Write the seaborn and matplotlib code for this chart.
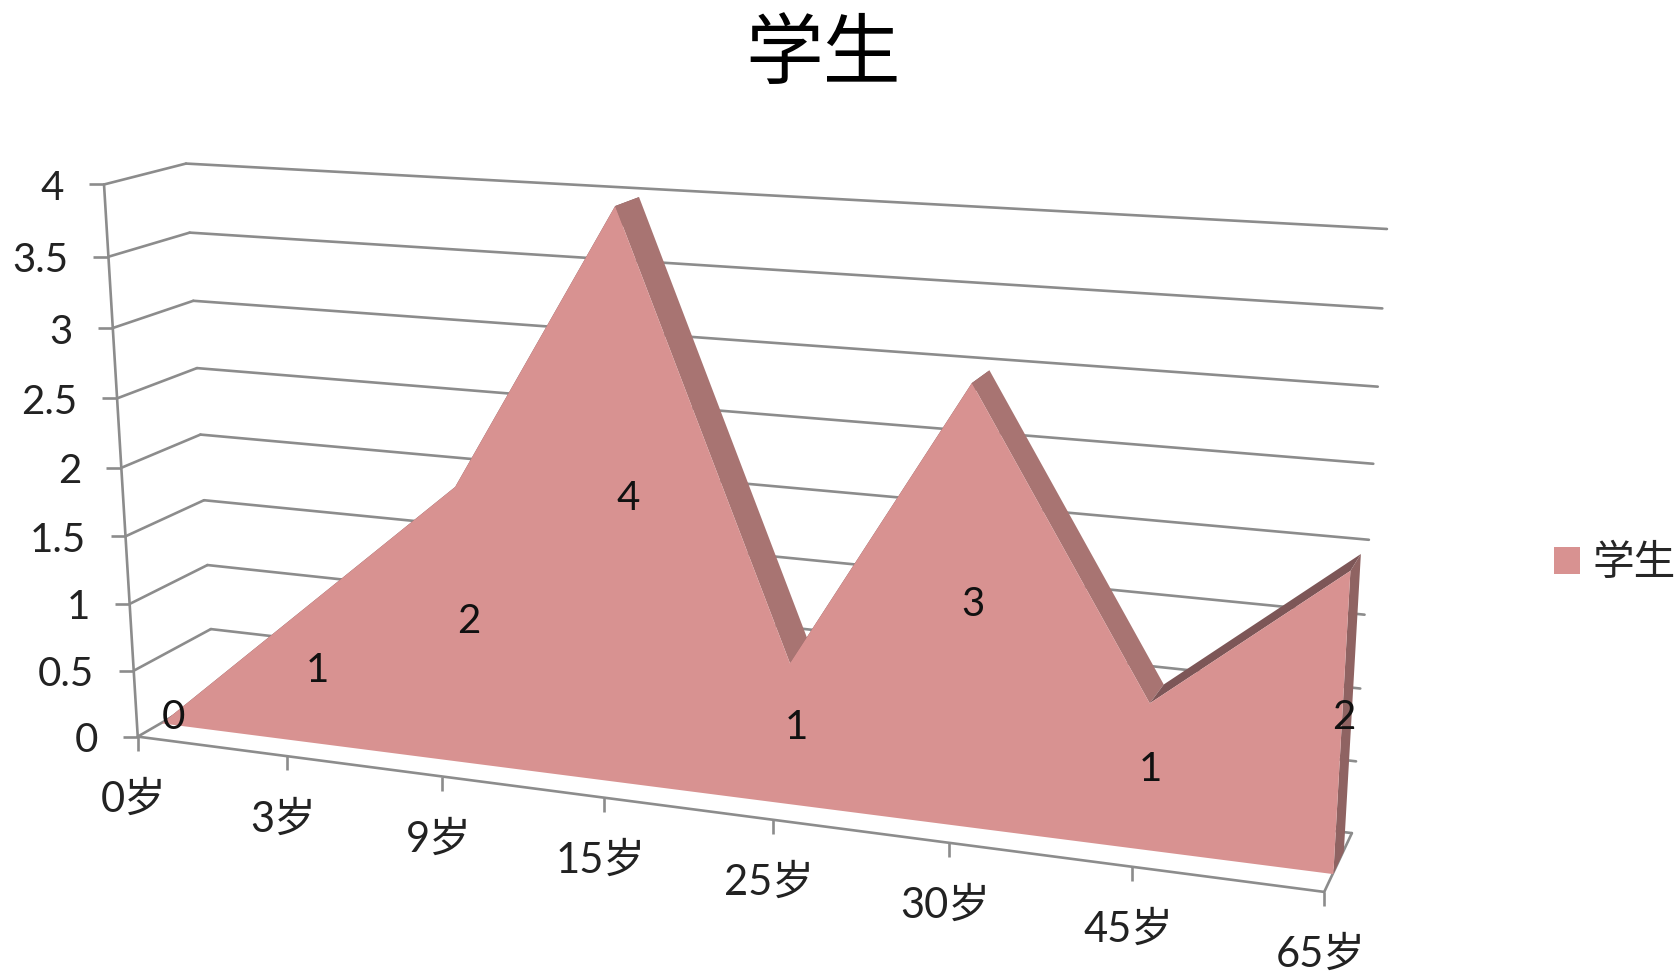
import numpy as np
import seaborn as sns
import matplotlib.pyplot as plt
import matplotlib.markers as mmarkers
import matplotlib.transforms as mtransforms

# chart values
ages = ['0岁', '3岁', '9岁', '15岁', '25岁', '30岁', '45岁', '65岁']
students = [0, 1, 2, 4, 1, 3, 1, 2]
y_ticks = [0, 0.5, 1, 1.5, 2, 2.5, 3, 3.5, 4]
y_tick_labels = ['0', '0.5', '1', '1.5', '2', '2.5', '3', '3.5', '4']

W, H = 1678, 973
GRID = '#8c8c8c'
FRONT = '#d89291'
ROOF_DOWN = '#a87472'
ROOF_UP = '#7d5657'
SIDE = '#8f6362'
Z_FRONT, Z_BACK = 0.30, 0.68
LW = 1.9
n = len(ages)
idx = np.arange(n)

# box corners (x, y, z) -> picture pixels, used to solve the Excel-like 3D camera
box_3d = [(0, 0, 0), (0, 1, 0), (1, 0, 0), (0, 0, 1), (0, 1, 1), (1, 0, 1), (1, 1, 1)]
box_px = [(137, 737), (105, 184), (1324, 892), (215, 692), (185, 164), (1352, 833), (1387, 229)]

rows = []
for (X, Y, Z), (u, v) in zip(box_3d, box_px):
    u, v = u / 1000, v / 1000
    rows.append([X, Y, Z, 1, 0, 0, 0, 0, -u * X, -u * Y, -u * Z, -u])
    rows.append([0, 0, 0, 0, X, Y, Z, 1, -v * X, -v * Y, -v * Z, -v])
CAM = np.linalg.svd(np.array(rows))[2][-1].reshape(3, 4)


class BoxFace(mtransforms.Transform):
    # maps 2D coordinates on one surface of the box to figure fractions
    input_dims = 2
    output_dims = 2
    is_separable = False
    has_inverse = False

    def __init__(self, lift):
        super().__init__()
        self.lift = lift

    def transform_non_affine(self, values):
        values = np.asarray(values, dtype=float)
        x, y, z = self.lift(values[:, 0], values[:, 1])
        p = CAM @ np.vstack([x, y, z, np.ones_like(x)])
        return np.column_stack([p[0] / p[2] * 1000 / W, 1 - p[1] / p[2] * 1000 / H])


def plane(z):
    # (category index, value) at a fixed depth
    return lambda i, v: (i / (n - 1), v / 4, np.full_like(i, z))


def roof(i, z):
    # (category index, depth) along the top of the area
    return i / (n - 1), np.interp(i, idx, students) / 4, z


sns.set_theme(style='white')
plt.rcParams['font.family'] = ['Lato', 'Noto Sans CJK SC', 'DejaVu Sans']

fig = plt.figure(figsize=(W / 100, H / 100), dpi=100, facecolor='white')
ax = fig.add_axes([0, 0, 1, 1])
ax.axis('off')
ax.set_xlim(0, 1)
ax.set_ylim(0, 1)
ax.autoscale(False)

t_fig = fig.transFigure
front_wall = BoxFace(plane(0)) + t_fig
back_wall = BoxFace(plane(1)) + t_fig
left_wall = BoxFace(lambda d, v: (np.zeros_like(d), v / 4, d)) + t_fig
right_floor = BoxFace(lambda d, v: (np.ones_like(d), v / 4, d)) + t_fig
area_front = BoxFace(plane(Z_FRONT)) + t_fig
area_roof = BoxFace(roof) + t_fig
area_side = BoxFace(lambda v, d: (np.ones_like(v), v / 4, d)) + t_fig
line_kw = dict(color=GRID, lw=LW, legend=False, errorbar=None, ax=ax, solid_capstyle='round')

# gridlines: left wall then back wall
for v in y_ticks:
    sns.lineplot(x=[0, 1], y=[v, v], transform=left_wall, **line_kw)
    sns.lineplot(x=[0, n - 1], y=[v, v], transform=back_wall, **line_kw)

# floor edge and the two front axes
sns.lineplot(x=[0, 1], y=[0, 0], transform=right_floor, **line_kw)
sns.lineplot(x=[0, n - 1], y=[0, 0], transform=front_wall, **line_kw)
ax.plot([0, 0], [0, 4], color=GRID, lw=LW, transform=front_wall)
ax.plot(idx, np.zeros(n), ls='none', marker=mmarkers.TICKDOWN, ms=10, mew=LW, color=GRID, transform=front_wall)
ax.plot(np.zeros(len(y_ticks)), y_ticks, ls='none', marker=mmarkers.TICKLEFT, ms=11, mew=LW, color=GRID, transform=front_wall)

# the area: top strips, end cap, front face (all above the gridlines)
for i in range(n - 1):
    c = ROOF_DOWN if students[i + 1] < students[i] else ROOF_UP
    ax.fill_between([idx[i], idx[i + 1]], Z_FRONT, Z_BACK, color=c, lw=0, transform=area_roof, zorder=2.2)
ax.fill_between([0, students[-1]], Z_FRONT, Z_BACK, color=SIDE, lw=0, transform=area_side, zorder=2.3)
ax.fill_between(idx, 0, students, color=FRONT, lw=0, transform=area_front, label='学生', zorder=2.5)

# data labels sit half way up the area
for i, v in zip(idx, students):
    ax.annotate(str(v), xy=(i, v / 2), xycoords=BoxFace(plane(0.5)) + t_fig, xytext=(-3, -4),
                textcoords='offset pixels', ha='center', va='center', fontsize=29, color='#111111')

# axis labels
for v, s in zip(y_ticks, y_tick_labels):
    ax.annotate(s, xy=(0, v), xycoords=front_wall, xytext=(-40, -4), textcoords='offset pixels',
                ha='right', va='center', fontsize=29, color='#222222')
for i, s in zip(idx, ages):
    ax.annotate(s, xy=(i, 0), xycoords=front_wall, xytext=(-4, -63), textcoords='offset pixels',
                ha='center', va='center', fontsize=30, color='#222222')

fig.text(823 / W, 1 - 56 / H, '学生', ha='center', va='center', fontsize=56, color='black')

ax.legend(loc='center left', bbox_to_anchor=(1554 / W, 1 - 563 / H), frameon=False, fontsize=30,
          handlelength=0.62, handleheight=0.62, handletextpad=0.3, borderpad=0, borderaxespad=0)

fig.savefig('out.png', dpi=100)
